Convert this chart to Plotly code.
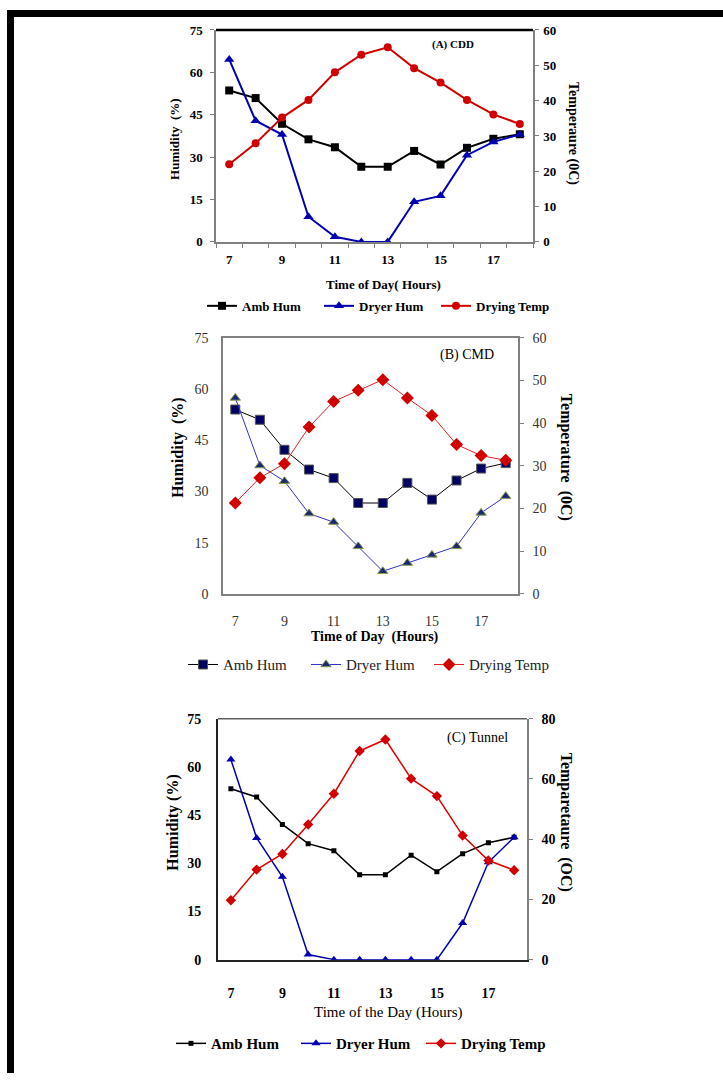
import plotly.graph_objects as go

W, H = 723, 1081

hours = [7, 8, 9, 10, 11, 12, 13, 14, 15, 16, 17, 18]
x_tick_vals = [7, 9, 11, 13, 15, 17]
hum_ticks = [0, 15, 30, 45, 60, 75]

# Panel A: CDD
a_amb_hum = [53.6, 50.9, 41.8, 36.3, 33.5, 26.6, 26.6, 32.2, 27.4, 33.3, 36.5, 38.1]
a_dryer_hum = [64.6, 42.9, 38.0, 8.9, 1.8, 0.0, 0.0, 14.2, 16.3, 30.7, 35.4, 38.0]
a_drying_temp = [22.0, 27.9, 35.2, 40.2, 48.0, 53.0, 55.1, 49.2, 45.1, 40.2, 36.1, 33.4]
a_temp_ticks = [0, 10, 20, 30, 40, 50, 60]

# Panel B: CMD
b_amb_hum = [54.0, 51.0, 42.2, 36.4, 33.9, 26.6, 26.6, 32.5, 27.6, 33.2, 36.7, 38.3]
b_dryer_hum = [57.4, 37.6, 33.0, 23.5, 21.0, 13.9, 6.6, 9.0, 11.4, 13.9, 23.7, 28.6]
b_drying_temp = [21.3, 27.2, 30.5, 39.1, 45.1, 47.7, 50.2, 45.9, 41.8, 35.0, 32.4, 31.3]
b_temp_ticks = [0, 10, 20, 30, 40, 50, 60]

# Panel C: Tunnel
c_amb_hum = [53.2, 50.6, 42.1, 36.1, 33.9, 26.4, 26.4, 32.5, 27.4, 33.0, 36.4, 38.1]
c_dryer_hum = [62.3, 37.9, 25.8, 1.6, 0.0, 0.0, 0.0, 0.0, 0.0, 11.4, 30.3, 38.1]
c_drying_temp = [19.7, 29.9, 35.1, 44.9, 55.1, 69.3, 73.1, 60.1, 54.3, 41.2, 32.9, 29.7]
c_temp_ticks = [0, 20, 40, 60, 80]

series_names = ["Amb Hum", "Dryer Hum", "Drying Temp"]

SERIF = "Liberation Serif"

# vertical calibration of the capture (observed offset / scale)
Y_OFF, Y_SCALE = 7.0, 0.9865


def px_x(p):
    return p / W


def px_y(p):
    return 1 - ((p - Y_OFF) / Y_SCALE) / H


fig = go.Figure()

# ---------- Panel A ----------
fig.add_trace(go.Scatter(x=hours, y=a_amb_hum, name=series_names[0], mode="lines+markers",
                         line=dict(color="black", width=2),
                         marker=dict(symbol="square", size=8, color="black"),
                         xaxis="x", yaxis="y", legend="legend"))
fig.add_trace(go.Scatter(x=hours, y=a_dryer_hum, name=series_names[1], mode="lines+markers",
                         line=dict(color="#0000b0", width=2),
                         marker=dict(symbol="triangle-up", size=9, color="#0000b0"),
                         xaxis="x", yaxis="y", legend="legend"))
fig.add_trace(go.Scatter(x=hours, y=a_drying_temp, name=series_names[2], mode="lines+markers",
                         line=dict(color="#d00000", width=2),
                         marker=dict(symbol="circle", size=8, color="#d00000"),
                         xaxis="x", yaxis="y2", legend="legend"))

# ---------- Panel B ----------
fig.add_trace(go.Scatter(x=hours, y=b_amb_hum, name=series_names[0], mode="lines+markers",
                         line=dict(color="black", width=1),
                         marker=dict(symbol="square", size=9, color="#000060",
                                     line=dict(color="#555", width=1)),
                         xaxis="x2", yaxis="y3", legend="legend2"))
fig.add_trace(go.Scatter(x=hours, y=b_dryer_hum, name=series_names[1], mode="lines+markers",
                         line=dict(color="#3030c8", width=1),
                         marker=dict(symbol="triangle-up", size=9, color="#1a2a70",
                                     line=dict(color="#8a9a50", width=1)),
                         xaxis="x2", yaxis="y3", legend="legend2"))
fig.add_trace(go.Scatter(x=hours, y=b_drying_temp, name=series_names[2], mode="lines+markers",
                         line=dict(color="#e02020", width=1),
                         marker=dict(symbol="diamond", size=10, color="#d00000"),
                         xaxis="x2", yaxis="y4", legend="legend2"))

# ---------- Panel C ----------
fig.add_trace(go.Scatter(x=hours, y=c_amb_hum, name=series_names[0], mode="lines+markers",
                         line=dict(color="black", width=1.5),
                         marker=dict(symbol="square", size=5, color="black"),
                         xaxis="x3", yaxis="y5", legend="legend3"))
fig.add_trace(go.Scatter(x=hours, y=c_dryer_hum, name=series_names[1], mode="lines+markers",
                         line=dict(color="#0000b0", width=1.5),
                         marker=dict(symbol="triangle-up", size=8, color="#0000b0"),
                         xaxis="x3", yaxis="y5", legend="legend3"))
fig.add_trace(go.Scatter(x=hours, y=c_drying_temp, name=series_names[2], mode="lines+markers",
                         line=dict(color="#e00000", width=1.5),
                         marker=dict(symbol="diamond", size=8, color="#d00000"),
                         xaxis="x3", yaxis="y6", legend="legend3"))

GREY = "#808080"


def xax(domain_px, anchor, tickfont, standoff, minor_ticks):
    d = dict(domain=[px_x(domain_px[0]), px_x(domain_px[1])], anchor=anchor,
             range=[6.5, 18.5], tickmode="array", tickvals=x_tick_vals,
             ticktext=[str(v) for v in x_tick_vals], ticks="", showgrid=False,
             zeroline=False, showline=True, linecolor=GREY, linewidth=1.5,
             tickfont=tickfont, ticklabelstandoff=standoff, fixedrange=True)
    if minor_ticks:
        d["minor"] = dict(tickmode="array", tickvals=[6.5 + i for i in range(13)],
                          ticks="outside", ticklen=4, tickcolor=GREY, tickwidth=1)
    return d


def yax(domain_px, anchor, rng, tickvals, tickfont, standoff, ticks="outside",
        side="left", overlaying=None, linecolor=GREY, linewidth=1.5):
    d = dict(range=rng, tickmode="array", tickvals=tickvals,
             ticktext=[str(v) for v in tickvals], ticks=ticks, ticklen=4,
             tickcolor=GREY, showgrid=False, zeroline=False, showline=True,
             linecolor=linecolor, linewidth=linewidth, tickfont=tickfont,
             ticklabelstandoff=standoff, anchor=anchor, side=side, fixedrange=True)
    if overlaying:
        d["overlaying"] = overlaying
    else:
        d["domain"] = [px_y(domain_px[1]), px_y(domain_px[0])]
    return d


fA = dict(family=SERIF, size=13, color="black", weight="bold")
fB = dict(family=SERIF, size=14, color="#333333")
fC = dict(family=SERIF, size=14, color="black", weight="bold")

fig.update_layout(
    # Panel A: x 216-533, y 30-242
    xaxis=xax((216, 533), "y", fA, 5, True),
    yaxis=yax((30, 242), "x", [0, 75], hum_ticks, fA, 5),
    yaxis2=yax(None, "x", [0, 60], a_temp_ticks, fA, 2, side="right", overlaying="y"),
    # Panel B: x 223-518, y 338-594
    xaxis2=xax((223, 518), "y3", fB, 14, False),
    yaxis3=yax((338, 594), "x2", [0, 75], hum_ticks, fB, 10, ticks=""),
    yaxis4=yax(None, "x2", [0, 60], b_temp_ticks, fB, 6, side="right", overlaying="y3"),
    # Panel C: x 218-527, y 719-960
    xaxis3=xax((218, 527), "y5", fC, 20, False),
    yaxis5=yax((719, 960), "x3", [0, 75], hum_ticks, fC, 12, ticks="",
               linecolor="#222222", linewidth=2),
    yaxis6=yax(None, "x3", [0, 80], c_temp_ticks, fC, 6, side="right", overlaying="y5"),
)
fig.layout.xaxis2.mirror = True
fig.layout.xaxis3.linecolor = "#222222"
fig.layout.xaxis3.linewidth = 2

shapes = []
# page frame (thick black top and left bars)
shapes.append(dict(type="rect", xref="paper", yref="paper", x0=px_x(7), x1=1,
                   y0=px_y(17), y1=px_y(10), fillcolor="black", line=dict(width=0), layer="above"))
shapes.append(dict(type="rect", xref="paper", yref="paper", x0=px_x(7), x1=px_x(14),
                   y0=0, y1=px_y(10), fillcolor="black", line=dict(width=0), layer="above"))
# panel A top border (black)
shapes.append(dict(type="line", xref="paper", yref="paper", x0=px_x(216), x1=px_x(533),
                   y0=px_y(30), y1=px_y(30), line=dict(color="black", width=2.5)))
# panel C top border (grey)
shapes.append(dict(type="line", xref="paper", yref="paper", x0=px_x(218), x1=px_x(527),
                   y0=px_y(719), y1=px_y(719), line=dict(color="#606060", width=1.5)))
fig.update_layout(shapes=shapes)

ann = []


def txt(x, y, s, size, bold=True, angle=0, color="black", xanchor="center"):
    ann.append(dict(xref="paper", yref="paper", x=px_x(x), y=px_y(y), text=s,
                    showarrow=False, textangle=angle, xanchor=xanchor, yanchor="middle",
                    font=dict(family=SERIF, size=size, color=color,
                              weight="bold" if bold else "normal")))


# Panel A texts
txt(175, 139, "Humidity  (%)", 13, angle=-90)
txt(573, 133, "Temperaure (0C)", 14, angle=90)
txt(383, 285, "Time of Day( Hours)", 13)
txt(453, 45, "(A) CDD", 11)
# Panel B texts
txt(178, 448, "Humidity  (%)", 16, angle=-90)
txt(566, 457, "Temperature  (0C)", 16, angle=90)
txt(375, 637, "Time of Day  (Hours)", 14)
txt(467, 355, "(B) CMD", 14, bold=False)
# Panel C texts
txt(173, 823, "Humidity (%)", 16, angle=-90)
txt(566, 822, "Temparetaure  (OC)", 16, angle=90)
txt(388, 1013, "Time of the Day (Hours)", 15, bold=False)
txt(477, 738, "(C) Tunnel", 14, bold=False)
fig.update_layout(annotations=ann)


def legend_cfg(x, y, font, entrywidth):
    return dict(orientation="h", x=px_x(x), y=px_y(y), xanchor="left", yanchor="middle",
                font=font, entrywidth=entrywidth, entrywidthmode="pixels",
                bgcolor="rgba(0,0,0,0)", borderwidth=0, tracegroupgap=0,
                itemclick=False, itemdoubleclick=False)


fig.update_layout(
    legend=legend_cfg(202, 306, dict(family=SERIF, size=13, color="black", weight="bold"), 72),
    legend2=legend_cfg(183, 665, dict(family=SERIF, size=15, color="#222222"), 78),
    legend3=legend_cfg(171, 1044, dict(family=SERIF, size=15, color="black", weight="bold"), 80),
)

fig.update_layout(width=W, height=H, margin=dict(l=0, r=0, t=0, b=0),
                  paper_bgcolor="white", plot_bgcolor="white", showlegend=True)

fig.write_html(
    "out.html",
    config={"displayModeBar": False},
    post_script=(
        "document.documentElement.style.margin='0';"
        "document.body.style.margin='0';document.body.style.padding='0';"
        "document.documentElement.style.overflow='hidden';"
        "document.body.style.overflow='hidden';"
    ),
)
